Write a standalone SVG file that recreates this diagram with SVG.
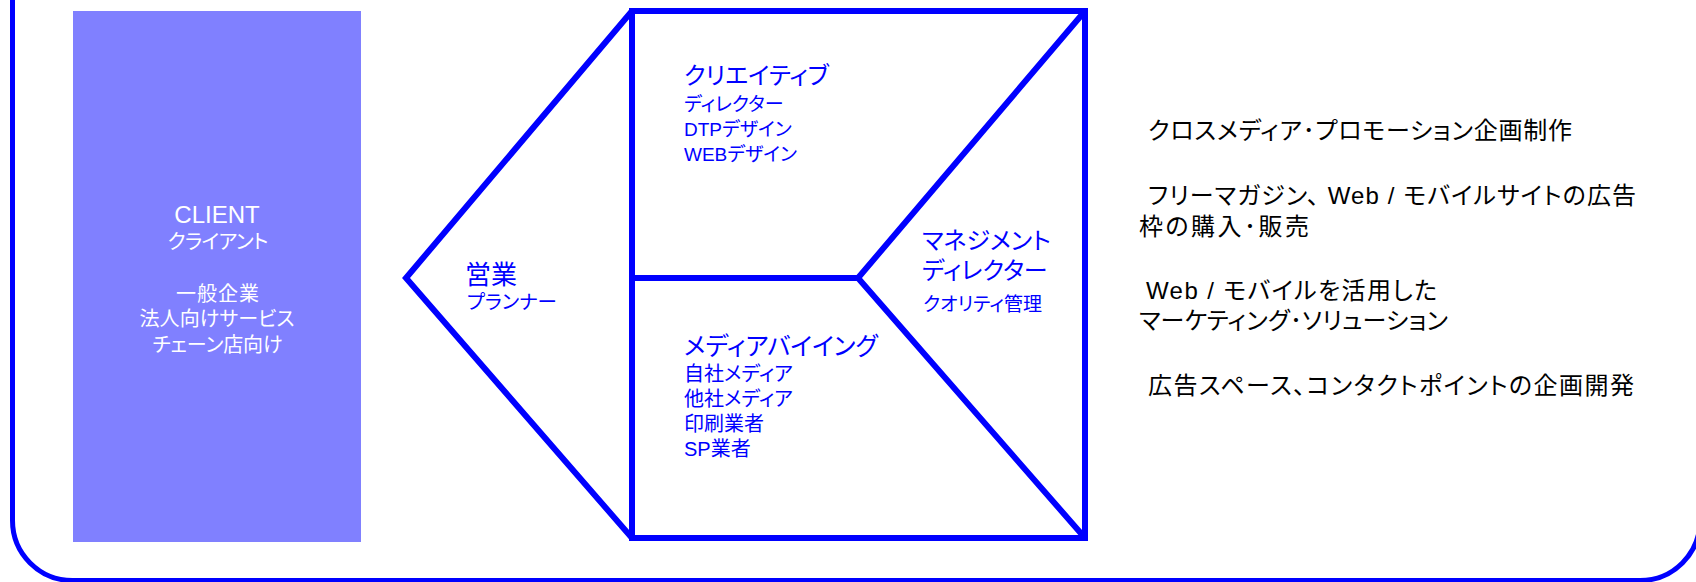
<svg xmlns="http://www.w3.org/2000/svg" width="1696" height="582" viewBox="0 0 1696 582">
<style>
.jp{font-family:"Liberation Sans","Noto Sans CJK JP",sans-serif;font-feature-settings:"palt" 1;}
.w{fill:#ffffff;}
.b{fill:#0000ff;}
.k{fill:#000000;}
.ln{fill:none;stroke:#0000ff;stroke-width:6;stroke-linejoin:miter;stroke-miterlimit:10;}
</style>
<rect width="1696" height="582" fill="#ffffff"/>
<g id="frame">
<rect x="12.5" y="-80" width="1687.5" height="660.5" rx="60" ry="60" fill="none" stroke="#0000ff" stroke-width="5"/>
</g>
<g id="client">
<rect x="73" y="11" width="288" height="531" fill="#8080ff"/>
<text class="jp w" x="217" y="223" font-size="24" text-anchor="middle">CLIENT</text>
<text class="jp w" x="218" y="249" font-size="20" text-anchor="middle" textLength="101" lengthAdjust="spacing">クライアント</text>
<text class="jp w" x="217.5" y="300.5" font-size="20" text-anchor="middle" textLength="83" lengthAdjust="spacing">一般企業</text>
<text class="jp w" x="217" y="325.5" font-size="20" text-anchor="middle" textLength="155" lengthAdjust="spacing">法人向けサービス</text>
<text class="jp w" x="217.5" y="352" font-size="20" text-anchor="middle" textLength="130" lengthAdjust="spacing">チェーン店向け</text>
</g>
<g id="structure">
<path class="ln" d="M632,11 L406,278 L632,538"/>
<rect class="ln" x="632" y="11" width="453" height="527"/>
<path class="ln" d="M632,278 L858,278"/>
<path class="ln" d="M1085,11 L858,278 L1085,538"/>
</g>
<g id="sales">
<text class="jp b" x="465" y="283.5" font-size="26">営業</text>
<text class="jp b" x="467" y="309" font-size="19.5">プランナー</text>
</g>
<g id="creative">
<text class="jp b" x="684" y="83.5" font-size="24">クリエイティブ</text>
<text class="jp b" x="684" y="111" font-size="19">ディレクター</text>
<text class="jp b" x="684" y="136" font-size="19">DTPデザイン</text>
<text class="jp b" x="684" y="161" font-size="19">WEBデザイン</text>
</g>
<g id="media">
<text class="jp b" x="684" y="354.5" font-size="24.5">メディアバイイング</text>
<text class="jp b" x="684" y="381" font-size="20">自社メディア</text>
<text class="jp b" x="684" y="406" font-size="20">他社メディア</text>
<text class="jp b" x="684" y="431" font-size="20">印刷業者</text>
<text class="jp b" x="684" y="456" font-size="20">SP業者</text>
</g>
<g id="management">
<text class="jp b" x="922" y="248.5" font-size="24">マネジメント</text>
<text class="jp b" x="922" y="278.5" font-size="24">ディレクター</text>
<text class="jp b" x="923" y="310.5" font-size="19">クオリティ管理</text>
</g>
<g id="services">
<text class="jp k" x="1148" y="138.5" font-size="24" textLength="424" lengthAdjust="spacing">クロスメディア･プロモーション企画制作</text>
<text class="jp k" x="1148" y="203.5" font-size="24" textLength="488" lengthAdjust="spacing">フリーマガジン、 Web /  モバイルサイトの広告</text>
<text class="jp k" x="1139" y="235" font-size="24" textLength="170" lengthAdjust="spacing">枠の購入･販売</text>
<text class="jp k" x="1146" y="298.5" font-size="24" textLength="291" lengthAdjust="spacing">Web /  モバイルを活用した</text>
<text class="jp k" x="1139" y="328.5" font-size="24" textLength="309" lengthAdjust="spacing">マーケティング･ソリューション</text>
<text class="jp k" x="1148" y="393.5" font-size="24" textLength="486" lengthAdjust="spacing">広告スペース、コンタクトポイントの企画開発</text>
</g>
</svg>
